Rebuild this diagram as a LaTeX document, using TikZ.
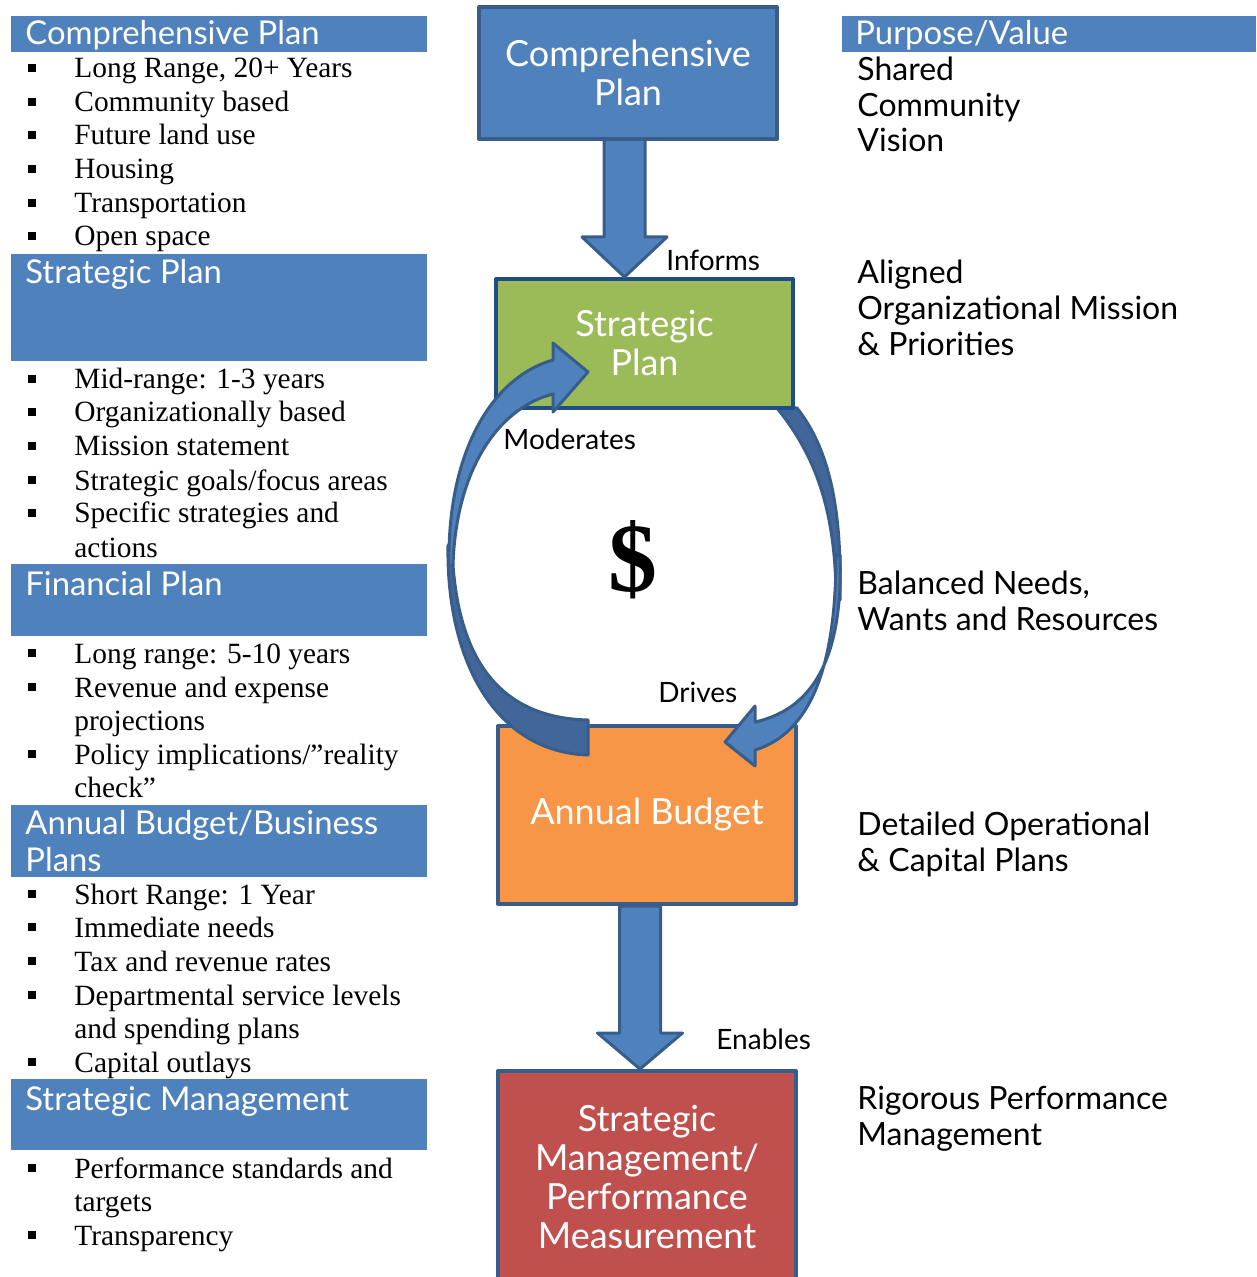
\documentclass[tikz,border=0pt]{standalone}
\usepackage{fontspec}
\setmainfont{Liberation Serif}
\newfontfamily\gothic{Lato}
\usetikzlibrary{calc}

\definecolor{accent}{HTML}{4F81BD}
\definecolor{accentdk}{HTML}{385D8A}
\definecolor{navy}{HTML}{1F4E86}
\definecolor{shade}{HTML}{41679A}
\definecolor{leaf}{HTML}{9BBB59}
\definecolor{tangerine}{HTML}{F79646}
\definecolor{brick}{HTML}{C0504D}

\begin{document}
\begin{tikzpicture}[x=0.5pt,y=-0.5pt,line join=round,
				hdr/.style={anchor=base west,inner sep=0,text=white,font=\gothic\fontsize{16.4}{18.5}\selectfont},
				item/.style={anchor=base west,inner sep=0,font=\fontsize{14.7}{17}\selectfont},
				sqbullet/.style={fill,inner sep=0,minimum size=4pt},
				val/.style={anchor=base west,inner sep=0,font=\gothic\fontsize{16}{18}\selectfont},
				lbl/.style={anchor=base west,inner sep=0,font=\gothic\fontsize{14}{16}\selectfont},
				plan/.style={draw=accentdk,line width=2pt,text=white,align=center,inner sep=0,
					font=\gothic\fontsize{18}{19.5}\selectfont},
				bigarrow/.style={fill=accent,draw=accentdk,line width=1.5pt},
				backarrow/.style={fill=shade,draw=accentdk,line width=1.5pt}]
				\useasboundingbox (0,0) rectangle (1256,1277);
				
				% blue header bars
				\foreach \ya/\yb in {16/52,254/361,564/636,805/877,1079/1150}
				{\fill[accent] (11,\ya) rectangle (427,\yb);}
				\fill[accent] (842,16) rectangle (1256,52);
				
				\node[hdr] (hcp) at (25,45) {Comprehensive Plan};
				\node[hdr] (hsp) at (25,284) {Strategic Plan};
				\node[hdr] (hfp) at (25,595) {Financial Plan};
				\node[hdr] (hab) at (25,834) {Annual Budget/Business};
				\node[hdr] (hab2) at (25,871) {Plans};
				\node[hdr] (hsm) at (25,1110) {Strategic Management};
				\node[hdr] (hpv) at (855,45) {Purpose/Value};
				
				% bullet lists
				\foreach \yy/\txt [count=\i] in {78/{Long Range, 20+ Years},112/Community based,145/Future land use,
					179/Housing,213/Transportation,246/Open space}
				{\node[item] (cp\i) at (74,\yy) {\txt};
					\node[sqbullet] (cpb\i) at (32,\yy-10) {};}
				
				\foreach \yy/\txt [count=\i] in {389/{Mid-range: 1-3 years},422/Organizationally based,456/Mission statement,
					490/{Strategic goals/focus areas},523/Specific strategies and}
				{\node[item] (sp\i) at (74,\yy) {\txt};
					\node[sqbullet] (spb\i) at (32,\yy-10) {};}
				\node[item] (sp6) at (74,557) {actions};
				
				\foreach \yy/\txt [count=\i] in {663/{Long range: 5-10 years},697/Revenue and expense,764/{Policy implications/”reality}}
				{\node[item] (fp\i) at (74,\yy) {\txt};
					\node[sqbullet] (fpb\i) at (32,\yy-10) {};}
				\node[item] (fp4) at (74,730) {projections};
				\node[item] (fp5) at (74,797) {check”};
				
				\foreach \yy/\txt [count=\i] in {904/{Short Range: 1 Year},937/Immediate needs,971/Tax and revenue rates,
					1005/Departmental service levels,1072/Capital outlays}
				{\node[item] (ab\i) at (74,\yy) {\txt};
					\node[sqbullet] (abb\i) at (32,\yy-10) {};}
				\node[item] (ab6) at (74,1038) {and spending plans};
				
				\foreach \yy/\txt [count=\i] in {1178/Performance standards and,1245/Transparency}
				{\node[item] (sm\i) at (74,\yy) {\txt};
					\node[sqbullet] (smb\i) at (32,\yy-10) {};}
				\node[item] (sm3) at (74,1211) {targets};
				
				% purpose / value column
				\foreach \yy/\txt [count=\i] in {81/Shared,117/Community,152/Vision,
					284/Aligned,320/Organizational Mission,356/\& Priorities,
					594/{Balanced Needs,},630/Wants and Resources,
					835/Detailed Operational,871/\& Capital Plans,
					1109/Rigorous Performance,1145/Management}
				{\node[val] (v\i) at (857,\yy) {\txt};}
				
				% the planning chain
				\node[plan,fill=tangerine,minimum width=149pt,minimum height=89pt] (budget) at (647,815) {Annual Budget};
				
				\draw[backarrow] (797,408) .. controls (830,450) and (842,510) .. (840,600)
				-- (836,600) .. controls (836,510) and (815,455) .. (777,408) -- cycle;
				\draw[bigarrow] (840,555) .. controls (843,650) and (818,708) .. (755,722)
				-- (755,706) -- (725,742) -- (755,766) -- (755,750)
				.. controls (810,733) and (836,668) .. (836,555) -- cycle;
				
				\node[plan,fill=leaf,draw=navy,minimum width=148.5pt,minimum height=64.5pt] (strat) at (644.5,343.5) {Strategic\\Plan};
				
				\path (628,139) ++(-3.5,0) coordinate (inf1) (inf1 |- strat.north) coordinate (inf2);
				\draw[bigarrow] ($(inf1)+(-20.5,0)$) -- ($(inf2)+(-20.5,-40)$) -- ($(inf2)+(-42.5,-40)$) -- (inf2)
				-- ($(inf2)+(42.5,-40)$) -- ($(inf2)+(20.5,-40)$) -- ($(inf1)+(20.5,0)$) -- cycle;
				
				\node[plan,fill=accent,minimum width=149pt,minimum height=66pt] (comp) at (628,73) {Comprehensive\\Plan};
				
				\draw[backarrow] (448,545) .. controls (446,660) and (495,752) .. (588,755)
				-- (588,720) .. controls (500,718) and (455,660) .. (452,545) -- cycle;
				\draw[bigarrow] (449,565) .. controls (447,455) and (490,378) .. (553,360)
				-- (553,343) -- (588,372) -- (553,412) -- (553,394)
				.. controls (498,408) and (456,470) .. (453,565) -- cycle;
				
				\node[plan,fill=brick,minimum width=149pt,minimum height=106pt] (perf) at (647,1177)
				{Strategic\\Management/\\Performance\\Measurement};
				
				\path (budget.south) ++(-7,0) coordinate (en1) (en1 |- perf.north) coordinate (en2);
				\draw[bigarrow] ($(en1)+(-20.5,0)$) -- ($(en2)+(-20.5,-36)$) -- ($(en2)+(-42.5,-36)$) -- (en2)
				-- ($(en2)+(42.5,-36)$) -- ($(en2)+(20.5,-36)$) -- ($(en1)+(20.5,0)$) -- cycle;
				
				\node[lbl] (informs) at (666,271) {Informs};
				\node[lbl] (moderates) at (503,450) {Moderates};
				\node[lbl] (drives) at (658,702) {Drives};
				\node[lbl] (enables) at (716,1049) {Enables};
				\node[font=\bfseries\fontsize{49}{49}\selectfont,inner sep=0] (dollar) at (633,560) {\$};
			\end{tikzpicture}
\end{document}
